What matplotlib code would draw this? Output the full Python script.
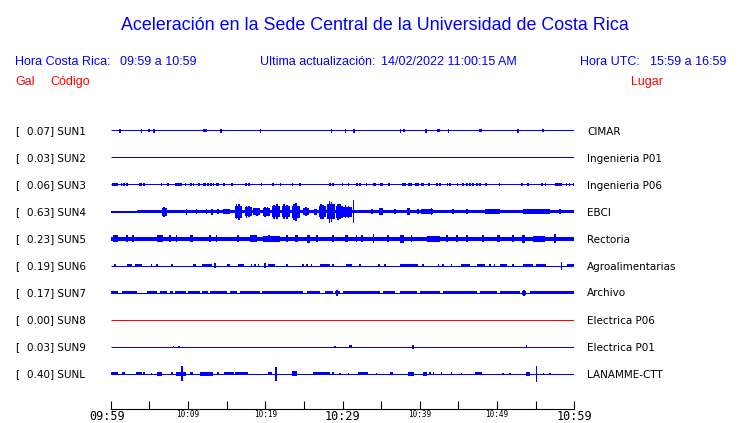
import numpy as np
import matplotlib.pyplot as plt
import matplotlib.transforms as mtrans

# header texts
title = "Aceleración en la Sede Central de la Universidad de Costa Rica"
hora_local = "09:59 a 10:59"
hora_utc = "15:59 a 16:59"
actualizacion = "14/02/2022 11:00:15 AM"

# stations
codes = ["SUN1", "SUN2", "SUN3", "SUN4", "SUN5", "SUN6", "SUN7", "SUN8", "SUN9", "SUNL"]
peaks = [0.07, 0.03, 0.06, 0.63, 0.23, 0.19, 0.17, 0.00, 0.03, 0.40]
places = ["CIMAR", "Ingenieria P01", "Ingenieria P06", "EBCI", "Rectoria",
          "Agroalimentarias", "Archivo", "Electrica P06", "Electrica P01", "LANAMME-CTT"]
noise = [0.5, 0.5, 0.5, 1.0, 2.0, 0.5, 0.5, 0.5, 0.5, 0.5]

# time axis, minutes after 09:59
tick_min = [0, 5, 10, 15, 20, 25, 30, 35, 40, 45, 50, 55, 60]
tick_txt = ["09:59", "", "10:09", "", "10:19", "", "10:29", "", "10:39", "", "10:49", "", "10:59"]

# envelope events: (minute, half amplitude) spikes or (start, end, half amplitude) bursts
sun1 = [(1.2, 2), (4.0, 2), (4.8, 5.1, 1.5), (5.6, 2), (12.0, 12.4, 1.5), (14.3, 2), (19.4, 2),
        (28.6, 2), (30.4, 2), (31.5, 2), (37.5, 2), (37.8, 38.1, 1.5), (40.8, 2),
        (42.2, 42.6, 1.5), (43.7, 2), (47.7, 48.0, 1.5), (52.7, 2), (55.8, 56.1, 1.5)]
sun2 = []
sun3 = [(0.2, 0.7, 1.5), (0.8, 1.5), (1.4, 1.5), (1.7, 1.5), (2.1, 1.5), (3.7, 1.5), (3.9, 1.5),
        (4.3, 1.5), (6.6, 1.5), (7.4, 1.5), (8.3, 9.2, 1.5), (9.7, 1.5), (10.4, 1.5), (10.7, 1.5),
        (11.3, 11.6, 1.5), (12.0, 1.5), (12.2, 1.5), (12.6, 1.5), (13.0, 1.5), (13.3, 1.5),
        (13.7, 1.5), (13.9, 1.5), (14.5, 14.8, 1.5), (15.7, 1.5), (17.5, 1.5), (17.9, 1.5),
        (19.5, 1.5), (21.0, 1.5), (22.0, 1.5), (23.5, 1.5), (24.5, 1.5), (28.4, 1.5), (28.8, 1.5),
        (30.0, 1.5), (30.8, 1.5), (31.9, 1.5), (32.3, 1.5), (33.1, 1.5), (34.0, 34.4, 1.5),
        (34.8, 35.3, 1.5), (36.0, 1.5), (37.7, 38.2, 1.5), (38.5, 39.0, 1.5), (39.4, 39.9, 1.5),
        (40.2, 40.5, 1.5), (41.2, 1.5), (42.2, 1.5), (42.6, 1.5), (43.6, 1.5), (43.9, 1.5),
        (44.9, 1.5), (45.6, 1.5), (46.1, 1.5), (46.5, 1.5), (46.9, 1.5), (47.4, 1.5), (47.8, 1.5),
        (48.6, 1.5), (50.3, 1.5), (53.1, 53.4, 1.5), (54.0, 1.5), (55.8, 1.5), (56.3, 1.5),
        (57.5, 58.4, 1.5), (59.0, 1.5), (59.4, 1.5), (59.9, 1.5)]
sun4 = [(3.4, 60, 1.8), (6.6, 7.25, 4), (6.9, 5), (9.8, 3), (11.1, 2.5), (12.4, 2.5), (13.1, 3),
        (13.9, 2.5), (14.55, 15.45, 2.5),
        (16.1, 16.95, 6), (16.3, 7.5), (16.6, 8), (17.39, 18.25, 4.5), (17.6, 6), (17.9, 5.5),
        (18.42, 19.32, 3.5), (18.9, 4), (19.71, 20.62, 4), (20.0, 5), (20.3, 4.5),
        (20.84, 21.91, 5.5), (21.1, 7), (21.5, 7.5), (22.13, 23.2, 5.5), (22.4, 7.5), (22.8, 7),
        (23.42, 24.5, 6), (23.7, 8), (24.0, 9), (24.89, 25.66, 3.5), (25.3, 4.5),
        (26.3, 26.7, 3), (26.96, 27.86, 5.5), (27.2, 7.5), (27.5, 7),
        (27.95, 29.03, 7.5), (28.3, 11), (28.6, 10), (29.16, 30.02, 6), (29.4, 8), (29.7, 7.5),
        (30.06, 31.19, 5), (30.4, 6.5), (30.8, 6), (31.4, 11.3),
        (33.8, 2.5), (34.7, 35.2, 3.5), (36.8, 2.5), (38.3, 38.7, 3.5), (39.8, 2.5),
        (40.2, 41.7, 2.5), (41.5, 3.5), (44.3, 2.5), (46.1, 2.5), (48.4, 50.4, 2.2),
        (53.4, 56.8, 2.2), (58.15, 2.8)]
sun5 = [(0.3, 1.0, 3.5), (2.1, 3.5), (2.9, 3.5), (6.0, 6.8, 3.5), (7.7, 3.5), (8.5, 3.5),
        (10.3, 10.7, 3.5), (12.85, 3.5), (13.7, 3.5), (16.5, 3.5), (18.0, 18.9, 3.5),
        (19.7, 21.9, 3), (20.5, 3.5), (22.8, 3.5), (23.85, 24.3, 3.5), (25.4, 25.8, 4), (26.7, 3.5),
        (28.8, 3.5), (30.3, 30.75, 3.5), (31.8, 3.5), (32.5, 3.5), (34.0, 4.5), (35.9, 3.5),
        (37.4, 37.9, 4), (38.95, 3.5), (40.9, 42.6, 3), (43.5, 3.5), (44.8, 3.5), (46.1, 3.5),
        (48.2, 3.5), (49.95, 50.4, 3.5), (52.1, 3.5), (53.2, 53.6, 4), (54.7, 56.2, 3), (57.5, 4.5)]
sun6 = [(0.56, 1.8), (2.07, 2.7, 1.5), (3.1, 4.0, 1.5), (5.3, 1.8), (6.0, 1.8), (7.9, 1.8),
        (10.6, 11.1, 1.5), (11.8, 13.1, 1.5), (13.5, 2.5), (15.0, 15.4, 1.5), (16.5, 17.2, 1.5),
        (18.25, 1.8), (18.7, 1.8), (19.1, 1.8), (20.0, 2.2), (20.4, 21.3, 1.5), (22.8, 1.8),
        (24.9, 1.8), (25.4, 1.8), (26.0, 1.8), (27.1, 28.4, 1.5), (28.8, 1.8), (30.5, 31.2, 1.5),
        (32.3, 1.8), (34.6, 34.85, 1.8), (35.5, 1.8), (37.4, 39.8, 1.5), (40.45, 1.8), (42.4, 1.8),
        (43.0, 1.8), (44.1, 1.8), (45.4, 46.5, 1.5), (47.4, 48.5, 1.5), (49.1, 1.8), (49.7, 1.8),
        (50.4, 51.25, 1.5), (52.1, 1.8), (53.4, 54.7, 1.5), (55.1, 56.4, 1.5), (58.35, 4),
        (59.0, 59.9, 1.8)]
sun7 = [(0.0, 1.0, 1.2), (1.4, 3.4, 1.2), (4.65, 5.95, 1.2), (6.4, 7.25, 1.2), (7.7, 8.1, 1.2),
        (8.3, 9.8, 1.2), (10.0, 11.55, 1.2), (11.8, 12.6, 1.2), (12.85, 15.0, 1.2),
        (15.45, 16.3, 1.2), (16.7, 19.3, 1.2), (19.55, 24.9, 1.2), (25.35, 27.1, 1.2),
        (27.7, 28.8, 1.2), (29.0, 29.7, 1.2), (29.3, 3), (30.1, 34.85, 1.2), (35.3, 36.8, 1.2),
        (37.4, 39.6, 1.2), (40.0, 42.6, 1.2), (43.0, 47.4, 1.2), (47.8, 49.95, 1.2),
        (50.4, 52.97, 1.2), (53.2, 53.8, 2), (53.5, 3), (54.3, 59.9, 1.2)]
sun8 = []
sun9 = [(8.1, 1), (8.85, 1), (29.0, 1), (30.9, 31.2, 1.5), (39.0, 39.2, 2), (53.8, 1.2)]
sunl = [(0.0, 1.0, 1.5), (1.4, 1.85, 1.2), (3.3, 4.0, 1.2), (4.3, 1.2), (5.3, 1), (5.95, 6.6, 2),
        (7.9, 1.2), (8.5, 9.8, 2), (9.2, 7.5), (10.3, 10.7, 1.5), (11.55, 13.3, 2), (13.9, 1.2),
        (14.6, 15.9, 1.2), (16.1, 17.8, 1.5), (20.4, 20.85, 1.2), (21.4, 7), (23.4, 24.1, 2.5),
        (26.2, 28.4, 1.5), (28.8, 1.2), (29.7, 1), (30.75, 1), (32.0, 33.3, 1.5), (34.4, 1),
        (36.15, 36.6, 1.5), (38.5, 39.2, 2), (40.45, 40.9, 2), (41.3, 1.2), (41.75, 1.2),
        (42.8, 1.2), (44.1, 1.2), (45.4, 1), (47.15, 48.0, 1.5), (50.8, 1), (51.7, 1),
        (53.8, 54.25, 2), (55.1, 8), (56.0, 1), (56.85, 1)]
traces = [sun1, sun2, sun3, sun4, sun5, sun6, sun7, sun8, sun9, sunl]

BLUE = "#0000ff"
RED = "#ff0000"
trace_colors = [BLUE] * 10
trace_colors[7] = RED

W, H = 740, 423


def fx(x):
    return x / W


def fy(y):
    return 1 - y / H


fig = plt.figure(figsize=(W / 100, H / 100), dpi=100)
fig.patch.set_facecolor("white")

head = dict(family="Liberation Sans", fontsize=9, va="baseline")
fig.text(fx(375), fy(30), title, ha="center", va="baseline", family="Liberation Sans",
         fontsize=12.9, color=BLUE)
fig.text(fx(15), fy(65), "Hora Costa Rica:", color=BLUE, **head)
fig.text(fx(120), fy(65), hora_local, color=BLUE, **head)
fig.text(fx(260), fy(65), "Ultima actualización:", color=BLUE, **head)
fig.text(fx(381), fy(65), actualizacion, color=BLUE, **head)
fig.text(fx(580.5), fy(65), "Hora UTC:", color=BLUE, **head)
fig.text(fx(650.5), fy(65), hora_utc, color=BLUE, **head)
fig.text(fx(15), fy(85), "Gal", color=RED, **head)
fig.text(fx(50), fy(85), "Código", color=RED, **head)
fig.text(fx(630.5), fy(85), "Lugar", color=RED, **head)

# trace area, y in pixel rows (top down)
x0, x1, ybot, ytop = 110.7, 574.3, 409, 110
ax = fig.add_axes([fx(x0), fy(ybot), (x1 - x0) / W, (ybot - ytop) / H])
ax.set_xlim(0, 60)
ax.set_ylim(ybot, ytop)
ax.set_facecolor("none")
for s in ["top", "left", "right"]:
    ax.spines[s].set_visible(False)
ax.spines["bottom"].set_linewidth(0.8)
ax.set_yticks([])

lab = dict(family="DejaVu Sans", fontsize=7.5, va="baseline", color="black")
for i, code in enumerate(codes):
    y0 = 130.5 + 27 * i
    c = trace_colors[i]
    ax.hlines(y0, 0, 60, color=c, lw=0.72)
    if noise[i] > 0.5:
        ax.bar(0, 2 * noise[i], width=60, bottom=y0 - noise[i], align="edge", color=c, lw=0,
               antialiased=False)
    for ev in traces[i]:
        if len(ev) == 2:
            t, a = ev
            ax.bar(t, 2 * a, width=0.2, bottom=y0 - a, align="center", color=c, lw=0,
                   antialiased=False)
        else:
            t0, t1, a = ev
            ax.bar(t0, 2 * a, width=t1 - t0, bottom=y0 - a, align="edge", color=c, lw=0,
                   antialiased=False)
    fig.text(fx(15), fy(y0 + 4), "[", **lab)
    fig.text(fx(27.3), fy(y0 + 4), f"{peaks[i]:.2f}] {code}", **lab)
    fig.text(fx(587.3), fy(y0 + 4), places[i], **lab)

ax.set_xticks(tick_min)
ax.set_xticklabels([])
ax.tick_params(axis="x", direction="in", length=6, width=0.8, color="black")
for t, txt in zip(tick_min, tick_txt):
    big = t % 30 == 0
    tr = ax.transData
    if t == tick_min[0]:
        # first label sits a little left of its tick
        tr = mtrans.offset_copy(ax.transData, fig=fig, x=-4, y=0, units="dots")
    ax.text(t, 420 if big else 417.3, txt, ha="center", va="baseline", transform=tr,
            family="DejaVu Sans Mono", fontsize=8.5 if big else 5.5, clip_on=False)

fig.savefig("out.png", dpi=100)
